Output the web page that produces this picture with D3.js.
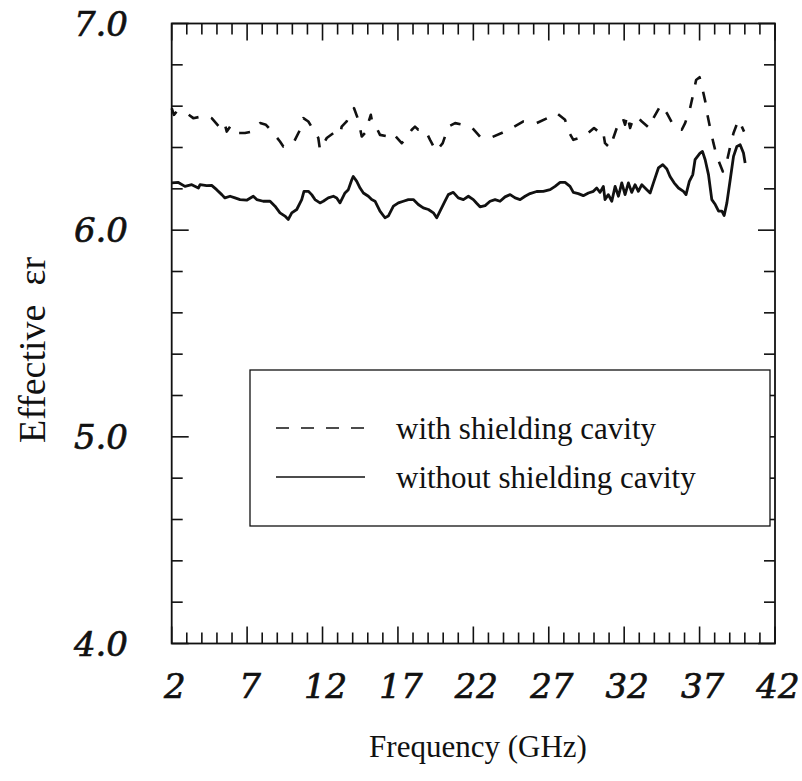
<!DOCTYPE html>
<html>
<head>
<meta charset="utf-8">
<script src="https://cdn.jsdelivr.net/npm/d3@7"></script>
<style>
  html, body { margin: 0; padding: 0; background: #fff; }
  svg { display: block; }
</style>
</head>
<body>
<svg id="chart" width="802" height="781"></svg>
<script>
// Frequency sweep (GHz) and effective permittivity, without shielding cavity
const solidFreq = [2.0, 2.44, 2.88, 3.33, 3.77, 3.88, 4.32, 4.65, 4.98, 5.32, 5.53, 5.87, 6.2, 6.53, 6.97, 7.41, 7.64, 8.07, 8.52, 8.85, 9.18, 9.51, 9.73, 9.96, 10.29, 10.62, 10.77, 11.06, 11.28, 11.5, 11.83, 12.05, 12.38, 12.72, 12.94, 13.16, 13.49, 13.71, 13.94, 14.04, 14.27, 14.49, 14.71, 15.04, 15.26, 15.48, 15.81, 16.14, 16.36, 16.7, 17.03, 17.36, 17.69, 18.02, 18.35, 18.68, 19.02, 19.35, 19.57, 19.79, 20.12, 20.34, 20.67, 21.0, 21.34, 21.67, 22.0, 22.22, 22.44, 22.78, 23.11, 23.44, 23.77, 24.1, 24.44, 24.77, 25.1, 25.43, 25.76, 26.2, 26.64, 27.09, 27.42, 27.75, 28.08, 28.41, 28.63, 28.96, 29.29, 29.63, 29.96, 30.18, 30.4, 30.62, 30.73, 30.95, 31.18, 31.4, 31.62, 31.84, 32.06, 32.28, 32.5, 32.72, 32.94, 33.17, 33.5, 33.72, 33.94, 34.27, 34.56, 34.83, 35.04, 35.31, 35.6, 35.93, 36.1, 36.32, 36.55, 36.7, 37.03, 37.19, 37.37, 37.59, 37.81, 38.04, 38.26, 38.48, 38.63, 38.81, 39.03, 39.25, 39.47, 39.69, 39.91, 40.02];
const solidEr = [6.229, 6.231, 6.212, 6.220, 6.204, 6.220, 6.216, 6.217, 6.196, 6.172, 6.156, 6.164, 6.156, 6.148, 6.145, 6.164, 6.148, 6.140, 6.140, 6.116, 6.084, 6.068, 6.052, 6.084, 6.100, 6.148, 6.188, 6.188, 6.172, 6.148, 6.132, 6.140, 6.156, 6.164, 6.156, 6.132, 6.180, 6.196, 6.244, 6.260, 6.236, 6.204, 6.180, 6.164, 6.148, 6.140, 6.092, 6.060, 6.068, 6.116, 6.132, 6.140, 6.148, 6.148, 6.124, 6.108, 6.100, 6.084, 6.060, 6.092, 6.140, 6.172, 6.183, 6.156, 6.148, 6.164, 6.148, 6.130, 6.113, 6.119, 6.140, 6.148, 6.140, 6.161, 6.172, 6.156, 6.148, 6.164, 6.177, 6.187, 6.188, 6.196, 6.212, 6.231, 6.231, 6.212, 6.183, 6.177, 6.167, 6.180, 6.188, 6.204, 6.183, 6.212, 6.148, 6.172, 6.140, 6.212, 6.164, 6.229, 6.172, 6.229, 6.183, 6.220, 6.188, 6.220, 6.196, 6.180, 6.229, 6.301, 6.317, 6.296, 6.260, 6.229, 6.204, 6.188, 6.172, 6.236, 6.269, 6.341, 6.373, 6.381, 6.341, 6.269, 6.148, 6.124, 6.092, 6.092, 6.071, 6.132, 6.244, 6.357, 6.405, 6.413, 6.373, 6.325];

// Effective permittivity with shielding cavity
const dashFreq = [2.0, 2.15, 2.33, 3.0, 3.43, 3.99, 4.32, 4.65, 5.32, 5.53, 5.65, 5.87, 6.09, 6.86, 7.31, 7.52, 7.86, 8.25, 8.74, 9.18, 9.4, 9.73, 10.06, 10.51, 10.73, 11.06, 11.39, 11.72, 11.83, 12.28, 12.72, 13.16, 13.27, 13.6, 13.78, 14.09, 14.37, 14.6, 14.82, 15.2, 15.33, 15.59, 15.81, 16.36, 16.65, 17.25, 17.47, 17.92, 18.13, 18.35, 18.8, 19.13, 19.53, 19.97, 20.34, 20.79, 21.34, 21.89, 22.44, 23.11, 23.88, 24.55, 25.32, 26.2, 26.91, 27.53, 28.08, 28.37, 28.63, 29.34, 30.0, 30.29, 30.58, 30.73, 31.07, 31.28, 31.62, 31.91, 32.06, 32.21, 32.39, 32.61, 32.84, 33.17, 33.67, 33.94, 34.43, 34.83, 35.31, 35.82, 36.04, 36.37, 36.59, 36.77, 37.0, 37.16, 37.38, 37.52, 37.7, 37.92, 38.14, 38.54, 38.81, 39.03, 39.25, 39.58, 39.8, 39.95];
const dashEr = [6.590, 6.558, 6.574, 6.566, 6.542, 6.550, 6.553, 6.542, 6.486, 6.510, 6.477, 6.501, 6.470, 6.470, 6.477, 6.494, 6.518, 6.510, 6.470, 6.429, 6.405, 6.413, 6.421, 6.486, 6.542, 6.526, 6.486, 6.446, 6.389, 6.446, 6.470, 6.461, 6.501, 6.526, 6.558, 6.590, 6.534, 6.453, 6.470, 6.558, 6.510, 6.494, 6.461, 6.453, 6.470, 6.421, 6.437, 6.486, 6.501, 6.486, 6.486, 6.437, 6.381, 6.421, 6.501, 6.518, 6.510, 6.498, 6.453, 6.446, 6.470, 6.494, 6.526, 6.518, 6.542, 6.566, 6.534, 6.470, 6.437, 6.453, 6.494, 6.477, 6.486, 6.421, 6.397, 6.446, 6.518, 6.542, 6.510, 6.558, 6.494, 6.542, 6.550, 6.526, 6.494, 6.542, 6.606, 6.566, 6.501, 6.486, 6.518, 6.590, 6.662, 6.727, 6.740, 6.694, 6.622, 6.558, 6.494, 6.421, 6.357, 6.284, 6.333, 6.405, 6.470, 6.534, 6.501, 6.477];

const xTickLabels = [2, 7, 12, 17, 22, 27, 32, 37, 42];
const yTickLabels = [4.0, 5.0, 6.0, 7.0];
const seriesNames = ["with shielding cavity", "without shielding cavity"];

const svg = d3.select("#chart");
const plot = { left: 171.7, right: 775, top: 23.5, bottom: 643.5 };

const x = d3.scaleLinear().domain([2, 42]).range([plot.left, plot.right]);
const y = d3.scaleLinear().domain([4, 7]).range([plot.bottom, plot.top]);

const ink = "#111";
const minorLen = 11, majorLen = 17;

// inward ticks on all four sides: 1 GHz steps, 0.2 steps in permittivity
const xMinor = d3.range(2, 42.01, 1);
const yMinor = d3.range(4, 7.001, 0.2).map(v => +v.toFixed(1));
const isXMajor = f => (f - 2) % 5 === 0;
const isYMajor = v => Math.abs(v - Math.round(v)) < 1e-6;

const ticks = svg.append("g").attr("stroke", ink).attr("stroke-width", 1.6);
xMinor.forEach(f => {
  const len = isXMajor(f) ? majorLen : minorLen;
  ticks.append("line").attr("x1", x(f)).attr("x2", x(f)).attr("y1", plot.bottom).attr("y2", plot.bottom - len);
  ticks.append("line").attr("x1", x(f)).attr("x2", x(f)).attr("y1", plot.top).attr("y2", plot.top + len);
});
yMinor.forEach(v => {
  const len = isYMajor(v) ? majorLen : minorLen;
  ticks.append("line").attr("y1", y(v)).attr("y2", y(v)).attr("x1", plot.left).attr("x2", plot.left + len);
  ticks.append("line").attr("y1", y(v)).attr("y2", y(v)).attr("x1", plot.right).attr("x2", plot.right - len);
});

// frame
svg.append("rect")
  .attr("x", plot.left).attr("y", plot.top)
  .attr("width", plot.right - plot.left).attr("height", plot.bottom - plot.top)
  .attr("fill", "none").attr("stroke", ink).attr("stroke-width", 1.8);

// tick labels
const tickFont = "'DejaVu Serif', serif";
svg.append("g").selectAll("text").data(xTickLabels).join("text")
  .attr("x", d => x(d) + 3).attr("y", 698)
  .attr("text-anchor", "middle")
  .attr("font-family", tickFont).attr("font-style", "italic").attr("font-size", 34)
  .attr("fill", ink).attr("stroke", ink).attr("stroke-width", 0.7)
  .text(d => d);

svg.append("g").selectAll("text").data(yTickLabels).join("text")
  .attr("x", 128).attr("y", d => y(d) + 12)
  .attr("text-anchor", "end")
  .attr("font-family", tickFont).attr("font-style", "italic").attr("font-size", 34)
  .attr("fill", ink).attr("stroke", ink).attr("stroke-width", 0.7)
  .text(d => d.toFixed(1));

// axis titles
const titleFont = "'Liberation Serif', 'Times New Roman', serif";
svg.append("text")
  .attr("x", 478).attr("y", 757)
  .attr("text-anchor", "middle")
  .attr("font-family", titleFont).attr("font-size", 31).attr("fill", ink)
  .text("Frequency (GHz)");

svg.append("text")
  .attr("transform", "translate(45,350) rotate(-90)")
  .attr("text-anchor", "middle")
  .attr("font-family", titleFont).attr("font-size", 38).attr("fill", ink)
  .attr("xml:space", "preserve")
  .text("Effective  \u03b5r");

// data lines
const line = d3.line().x(d => x(d[0])).y(d => y(d[1])).curve(d3.curveLinear);
const dashData = d3.zip(dashFreq, dashEr);
const solidData = d3.zip(solidFreq, solidEr);

svg.append("path").datum(dashData)
  .attr("d", line)
  .attr("fill", "none").attr("stroke", ink).attr("stroke-width", 2.6)
  .attr("stroke-dasharray", "11,13").attr("stroke-linejoin", "round");

svg.append("path").datum(solidData)
  .attr("d", line)
  .attr("fill", "none").attr("stroke", ink).attr("stroke-width", 2.8)
  .attr("stroke-linejoin", "round");

// legend
const lg = svg.append("g");
lg.append("rect")
  .attr("x", 250).attr("y", 370).attr("width", 520).attr("height", 156)
  .attr("fill", "#fff").attr("stroke", ink).attr("stroke-width", 1.3);

const legendRows = [
  { name: seriesNames[0], dash: "13,12", y: 428 },
  { name: seriesNames[1], dash: null, y: 477 }
];
legendRows.forEach(r => {
  lg.append("line")
    .attr("x1", 276).attr("x2", 365).attr("y1", r.y).attr("y2", r.y)
    .attr("stroke", ink).attr("stroke-width", 1.4)
    .attr("stroke-dasharray", r.dash);
  lg.append("text")
    .attr("x", 396).attr("y", r.y + 11)
    .attr("font-family", titleFont).attr("font-size", 31).attr("fill", ink)
    .text(r.name);
});
</script>
</body>
</html>
